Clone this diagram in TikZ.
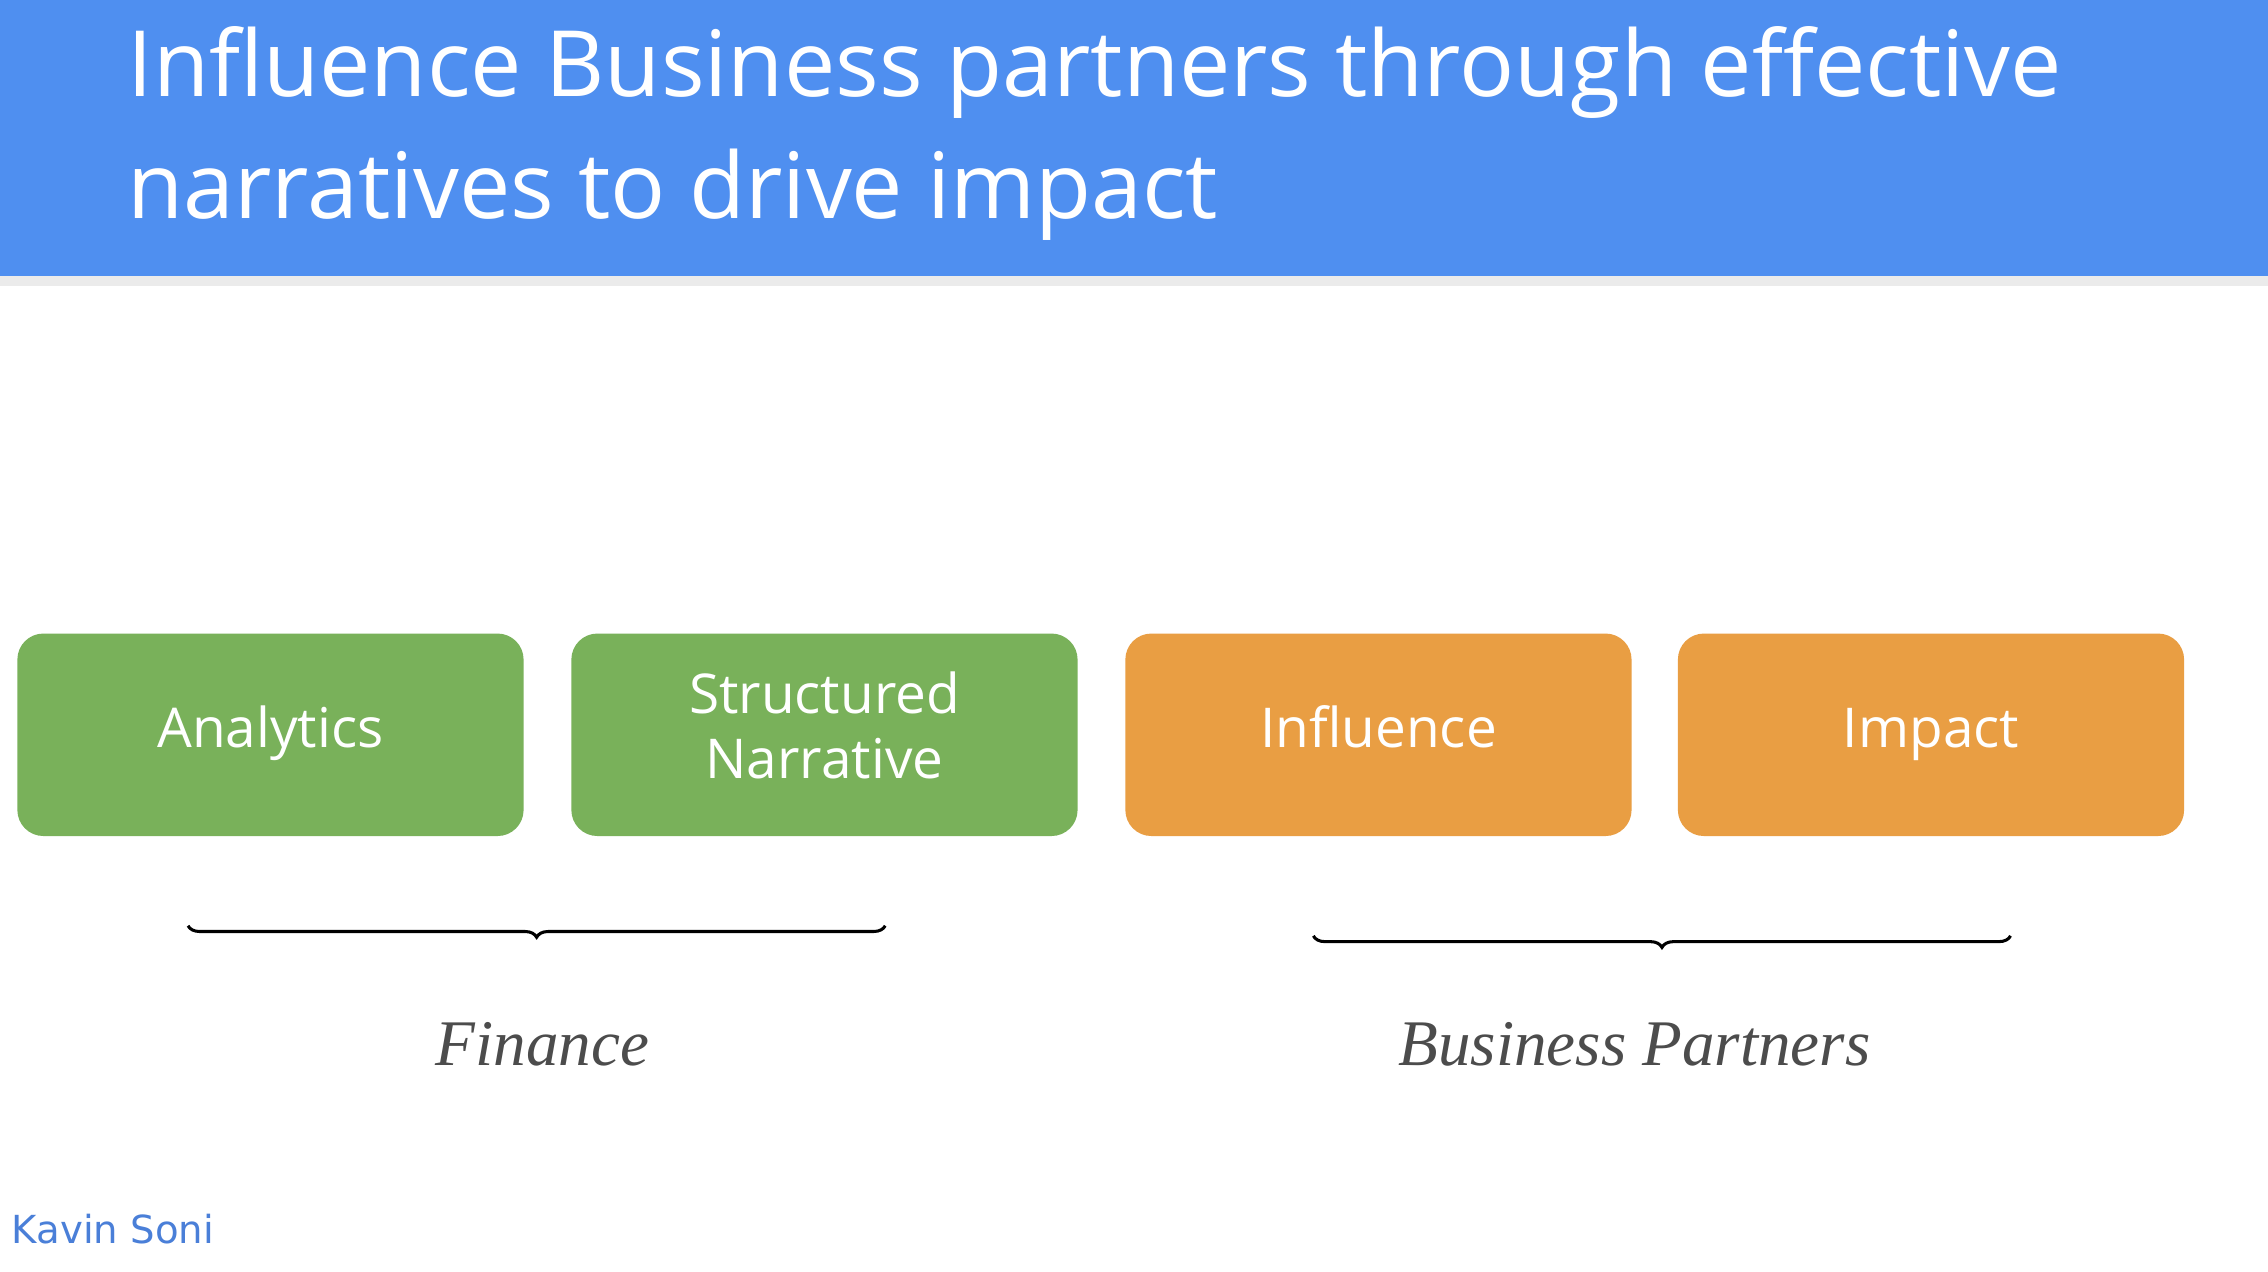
\documentclass[tikz,border=0pt]{standalone}
\usepackage{fontspec}
\setmainfont{Open Sans}
\newfontfamily\handfont{Liberation Serif}
\newfontfamily\sigfont{DejaVu Sans}
\usetikzlibrary{decorations.pathreplacing,shadows}
\definecolor{hdr}{HTML}{4F8FF0}
\definecolor{grn}{HTML}{79B15A}
\definecolor{org}{HTML}{E99E43}
\definecolor{sig}{HTML}{4A7FD8}
\tikzset{
  blk/.style={rounded corners=0.9cm,minimum width=17.5cm,minimum height=7cm,text=white,align=center,font=\fontsize{54}{64}\selectfont,inner sep=0pt,execute at begin node=\strut},
  brc/.style={decorate,decoration={brace,mirror,amplitude=0.4cm},line width=3pt},
  grp/.style={text=black!70,font=\handfont\itshape\fontsize{64}{72}\selectfont}
}
\begin{document}
\begin{tikzpicture}[x=0.05cm,y=-0.05cm]
\useasboundingbox (0,0) rectangle (1568,879);
\fill[white] (0,0) rectangle (1568,879);
\fill[black!8] (0,190) rectangle (1568,198);
\fill[hdr] (0,0) rectangle (1568,191);
\node[anchor=west,text=white,align=left,font=\fontsize{90}{120}\selectfont,inner sep=0pt] (title) at (88,92) {Influence Business partners through effective\\narratives to drive impact};
\node[blk,fill=grn] (a) at (187,508) {Analytics};
\node[blk,fill=grn] (s) at (570,508) {Structured\\Narrative};
\node[blk,fill=org] (i) at (953,508) {Influence};
\node[blk,fill=org] (p) at (1335,508) {Impact};
\coordinate (b1) at (130,640); \coordinate (b2) at (612,640);
\coordinate (b3) at (908,647); \coordinate (b4) at (1390,647);
\draw[brc] (b1) -- (b2);
\draw[brc] (b3) -- (b4);
\node[grp] (f) at (375,722) {Finance};
\node[grp] (bp) at (1130,722) {Business Partners};
\node[anchor=west,text=sig,font=\sigfont\fontsize{38}{44}\selectfont,inner sep=0pt] (k) at (8,850) {Kavin Soni};
\end{tikzpicture}
\end{document}
